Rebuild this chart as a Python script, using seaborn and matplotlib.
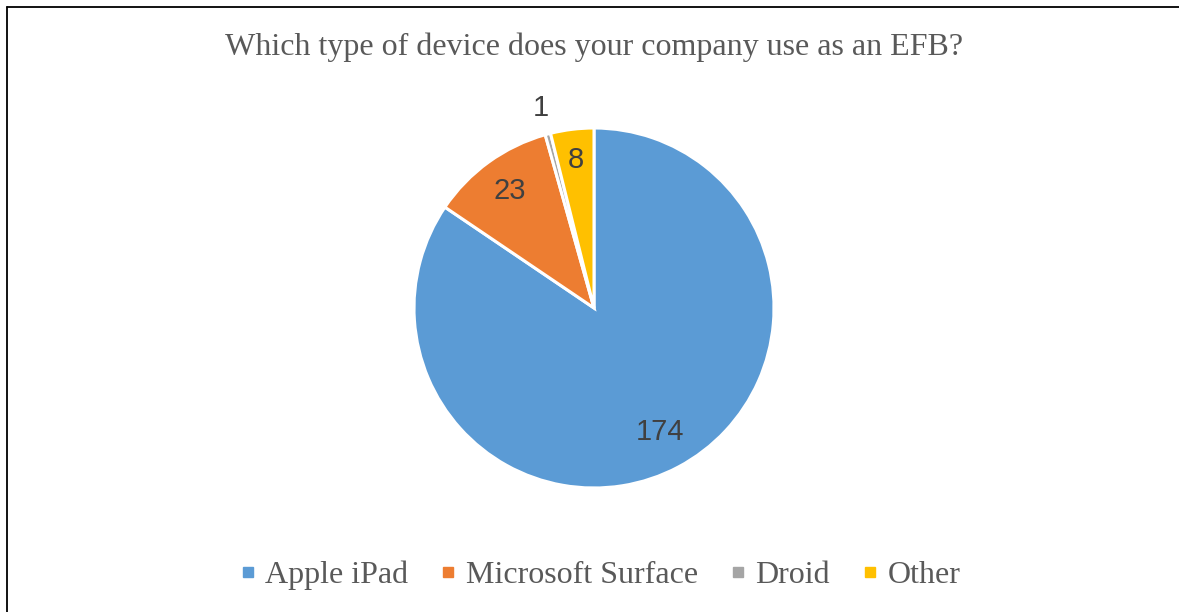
import matplotlib
matplotlib.use("Agg")
import matplotlib.pyplot as plt
import seaborn as sns
import numpy as np
from matplotlib.lines import Line2D

devices = ["Apple iPad", "Microsoft Surface", "Droid", "Other"]
counts = [174, 23, 1, 8]
colors = ["#5B9BD5", "#ED7D31", "#A5A5A5", "#FFC000"]
label_radius = [0.78, 0.80, 1.15, 0.83]

sns.set_theme(style="white")
plt.rcParams["font.family"] = ["Liberation Serif", "DejaVu Serif"]

fig = plt.figure(figsize=(11.79, 6.12), dpi=100)

# pie axes: centre ~ (594, 308) px, radius ~180 px
W, H = 1179, 612
ax = fig.add_axes([(594 - 180) / W, (H - 488) / H, 360 / W, 360 / H])
wedges, _ = ax.pie(counts, colors=colors, startangle=90, counterclock=False,
                   wedgeprops={"edgecolor": "white", "linewidth": 2.2})
ax.set_xlim(-1, 1)
ax.set_ylim(-1, 1)
ax.set_aspect("equal")
ax.axis("off")

# data labels
for w, n, r in zip(wedges, counts, label_radius):
    mid = np.deg2rad((w.theta1 + w.theta2) / 2)
    ax.text(r * np.cos(mid), r * np.sin(mid), str(n), ha="center", va="center",
            fontsize=21, color="#404040", family=["Liberation Sans", "DejaVu Sans"],
            clip_on=False)

fig.text(594 / W, 1 - 47 / H, "Which type of device does your company use as an EFB?",
         ha="center", va="center", fontsize=23, color="#595959")

handles = [Line2D([], [], marker="s", linestyle="none", markersize=6.5,
                  markerfacecolor=c, markeredgecolor=c) for c in colors]
fig.legend(handles, devices, loc="center", bbox_to_anchor=(600 / W, 1 - 575 / H),
           ncol=4, frameon=False, fontsize=23, labelcolor="#595959",
           handlelength=0.5, handletextpad=0.3, columnspacing=1.0)

# chart border (left + top visible)
fig.add_artist(Line2D([7.5 / W, 7.5 / W], [0, 1 - 6.5 / H], color="black", lw=1.3))
fig.add_artist(Line2D([7.5 / W, 1], [1 - 6.5 / H, 1 - 6.5 / H], color="black", lw=1.3))

fig.savefig("out.png", dpi=100)
